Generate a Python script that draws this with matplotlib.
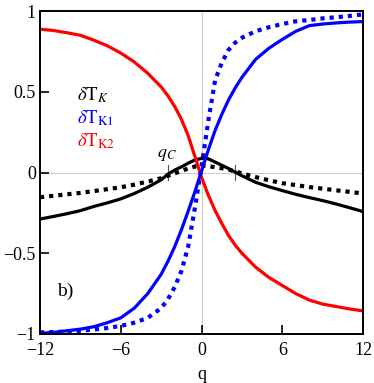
import matplotlib
matplotlib.use("Agg")
import matplotlib.pyplot as plt

plt.rcParams["font.family"] = ["Liberation Serif", "DejaVu Serif"]
plt.rcParams["mathtext.fontset"] = "stix"

# q grid shared by all curves
q = [-12, -11, -10, -9, -8, -7, -6, -5, -4, -3, -2.5, -2, -1.5, -1, -0.5, 0,
     0.5, 1, 1.5, 2, 2.5, 3, 4, 5, 6, 7, 8, 9, 10, 11, 12]

# solid curves
tk = [-0.288, -0.272, -0.255, -0.236, -0.21, -0.188, -0.163, -0.13, -0.091, -0.045, -0.01,
      0.015, 0.035, 0.058, 0.078, 0.088, 0.085, 0.065, 0.045, 0.025, 0.002, -0.02,
      -0.06, -0.088, -0.112, -0.135, -0.155, -0.174, -0.195, -0.218, -0.242]
tk1 = [-0.996, -0.99, -0.98, -0.97, -0.955, -0.93, -0.90, -0.84, -0.75, -0.63, -0.55,
       -0.46, -0.355, -0.24, -0.12, 0.01, 0.14, 0.26, 0.36, 0.45, 0.525, 0.59,
       0.70, 0.77, 0.825, 0.875, 0.91, 0.92, 0.927, 0.932, 0.935]
tk2 = [0.888, 0.88, 0.866, 0.85, 0.82, 0.785, 0.74, 0.685, 0.615, 0.53, 0.475,
       0.41, 0.33, 0.23, 0.10, -0.03, -0.14, -0.235, -0.315, -0.39, -0.45, -0.50,
       -0.585, -0.65, -0.70, -0.75, -0.79, -0.815, -0.83, -0.845, -0.857]

# dotted curves
tk_dot = [-0.153, -0.144, -0.135, -0.126, -0.115, -0.103, -0.091, -0.075, -0.056, -0.035, -0.02,
          -0.005, 0.01, 0.025, 0.037, 0.043, 0.04, 0.033, 0.027, 0.018, 0.007, -0.005,
          -0.028, -0.048, -0.066, -0.078, -0.09, -0.10, -0.11, -0.12, -0.13]
tk1_dot = [-0.99, -0.988, -0.985, -0.98, -0.972, -0.963, -0.95, -0.93, -0.90, -0.84, -0.785,
           -0.71, -0.61, -0.46, -0.22, 0.04, 0.32, 0.57, 0.68, 0.76, 0.805, 0.835,
           0.875, 0.90, 0.92, 0.937, 0.945, 0.955, 0.962, 0.97, 0.98]

qc = [-2.5, 2.5]

fig = plt.figure(figsize=(3.74, 3.83), dpi=100)
ax = fig.add_axes([0.107, 0.128, 0.864, 0.843])

ax.axhline(0, color="#cccccc", lw=0.8, zorder=0)
ax.axvline(0, color="#cccccc", lw=0.8, zorder=0)
for x in qc:
    ax.plot([x, x], [-0.047, 0.047], color="#555555", lw=0.8, zorder=1)

dots = (0, (1, 1.2))
ax.plot(q, tk_dot, color="black", lw=3, ls=dots)
ax.plot(q, tk1_dot, color="blue", lw=3, ls=dots)
ax.plot(q, tk, color="black", lw=2.3)
ax.plot(q, tk2, color="red", lw=2.3)
ax.plot(q, tk1, color="blue", lw=2.3)

ax.text(-9.26, 0.447, r"$\delta\mathrm{T}_{K}$", color="black", fontsize=13.5, va="baseline")
ax.text(-9.26, 0.305, r"$\delta\mathrm{T}_{\mathrm{K1}}$", color="blue", fontsize=13.5, va="baseline")
ax.text(-9.26, 0.16, r"$\delta\mathrm{T}_{\mathrm{K2}}$", color="red", fontsize=13.5, va="baseline")
ax.text(-3.34, 0.095, r"$q_C$", fontsize=13, va="baseline")
ax.text(-10.77, -0.764, "b)", fontsize=14, va="baseline")

ax.set_xlim(-12, 12)
ax.set_ylim(-1, 1)
ax.set_xticks([-12, -6, 0, 6, 12])
ax.set_yticks([-1, -0.5, 0, 0.5, 1])
ax.set_yticklabels(["\u22121", "\u22120.5", "0", "0.5", "1"])
ax.tick_params(direction="in", length=6.5, width=1.2, labelsize=13,
               top=False, right=False)
ax.tick_params(axis="y", pad=3)
ax.tick_params(axis="x", pad=6)
ax.set_xlabel("q", fontsize=13, labelpad=5)
for s in ax.spines.values():
    s.set_linewidth(1.4)

fig.savefig("out.png", dpi=100)
